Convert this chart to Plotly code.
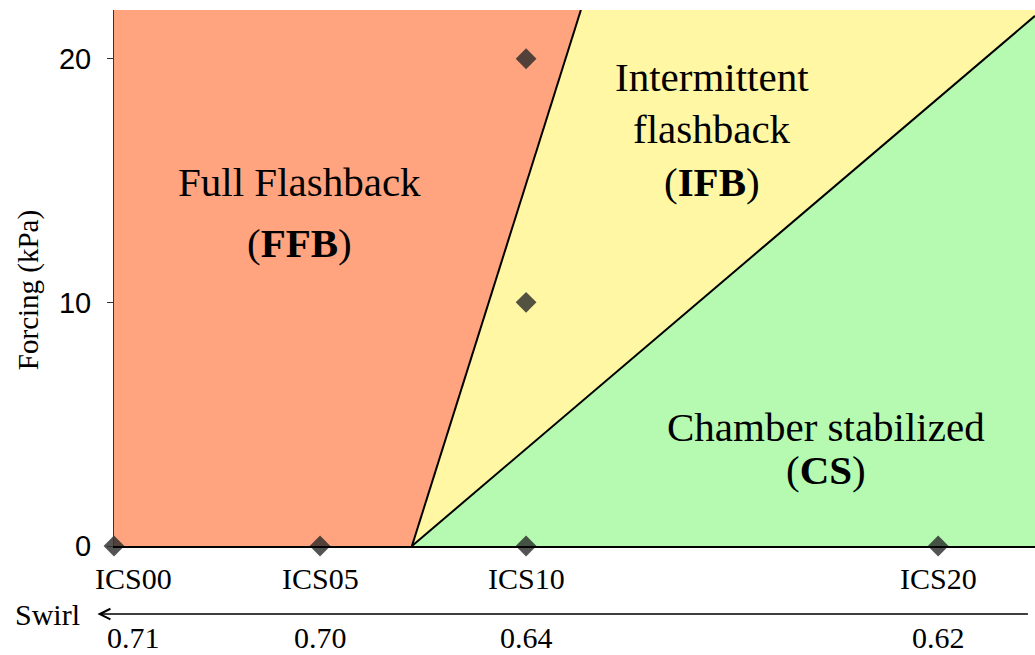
import plotly.graph_objects as go

# cases along swirl axis
case_x = [0, 5, 10, 20]
case_labels = ["ICS00", "ICS05", "ICS10", "ICS20"]
swirl_values = ["0.71", "0.70", "0.64", "0.62"]

# measured operating points (case position, forcing kPa)
pts_x = [0, 5, 10, 10, 10, 20]
pts_y = [0, 0, 0, 10, 20, 0]

# regime boundaries
x_max, y_max = 22.35, 22
onset_x = 7.23
ffb_top_x = 11.33          # FFB/IFB boundary at top of chart
cs_edge_y = 21.76          # IFB/CS boundary at right edge

SERIF = "Liberation Serif, Times New Roman, serif"

fig = go.Figure()

regions = [
    ([0, onset_x, ffb_top_x, 0], [0, 0, y_max, y_max], "#ffa47f"),
    ([onset_x, x_max, x_max, ffb_top_x], [0, cs_edge_y, y_max, y_max], "#fff7a3"),
    ([onset_x, x_max, x_max], [0, 0, cs_edge_y], "#b5fab0"),
]
for xs, ys, col in regions:
    fig.add_trace(go.Scatter(x=xs, y=ys, fill="toself", fillcolor=col,
                             mode="none", showlegend=False, hoverinfo="skip"))

# boundary lines
fig.add_trace(go.Scatter(x=[onset_x, ffb_top_x], y=[0, y_max], mode="lines",
                         line=dict(color="black", width=2), showlegend=False))
fig.add_trace(go.Scatter(x=[onset_x, x_max], y=[0, cs_edge_y], mode="lines",
                         line=dict(color="black", width=2), showlegend=False))

fig.add_trace(go.Scatter(
    x=pts_x, y=pts_y, mode="markers", cliponaxis=False,
    marker=dict(symbol="diamond", size=16, color="rgba(40,40,40,0.8)"),
    showlegend=False,
))

big = dict(family=SERIF, size=41, color="black")
labels = [
    (4.5, 14.95, "Full Flashback"),
    (4.5, 12.45, "(<b>FFB</b>)"),
    (14.5, 19.25, "Intermittent"),
    (14.5, 17.1, "flashback"),
    (14.5, 14.95, "(<b>IFB</b>)"),
    (17.28, 4.9, "Chamber stabilized"),
    (17.28, 3.1, "(<b>CS</b>)"),
]
for lx, ly, txt in labels:
    fig.add_annotation(x=lx, y=ly, text=txt, showarrow=False, font=big,
                       xanchor="center", yanchor="middle")

small = dict(family=SERIF, size=30, color="black")
for cx, lab, sv in zip(case_x, case_labels, swirl_values):
    shift = 19 if cx == case_x[0] else 0
    fig.add_annotation(x=cx, y=-0.06, yref="paper", text=lab, showarrow=False,
                       font=small, xanchor="center", yanchor="middle",
                       xshift=shift)
    fig.add_annotation(x=cx, y=-0.17, yref="paper", text=sv, showarrow=False,
                       font=small, xanchor="center", yanchor="middle",
                       xshift=shift)

# swirl arrow
fig.add_annotation(x=-0.018, y=-0.127, xref="paper", yref="paper", text="",
                   showarrow=True, ax=932, ay=0, arrowhead=5, arrowsize=1.4,
                   arrowwidth=1.5, arrowcolor="black", standoff=0)
fig.add_annotation(x=-0.0727, y=-0.127, xref="paper", yref="paper", text="Swirl",
                   showarrow=False, font=small, xanchor="center",
                   yanchor="middle")

fig.add_annotation(x=-0.093, y=0.478, xref="paper", yref="paper",
                   text="Forcing (kPa)", textangle=-90, showarrow=False,
                   xanchor="center", yanchor="middle",
                   font=dict(family=SERIF, size=29, color="black"))

fig.update_layout(
    width=1035, height=655,
    margin=dict(l=114, r=0, t=10, b=109),
    plot_bgcolor="white", paper_bgcolor="white",
    xaxis=dict(range=[0, x_max], tickvals=case_x, showticklabels=False,
               showgrid=False, zeroline=False, showline=True,
               linecolor="black", linewidth=2, ticks=""),
    yaxis=dict(range=[0, y_max], tickvals=[0, 10, 20], showgrid=False,
               zeroline=False, showline=True, linecolor="#333", linewidth=1,
               ticks="outside", ticklen=6, tickcolor="#333",
               ticklabelstandoff=10,
               tickfont=dict(family="Liberation Sans, Arial, sans-serif",
                             size=29, color="black")),
)

fig.write_html("out.html", config={"displayModeBar": False},
               post_script="document.body.style.margin='0';")
